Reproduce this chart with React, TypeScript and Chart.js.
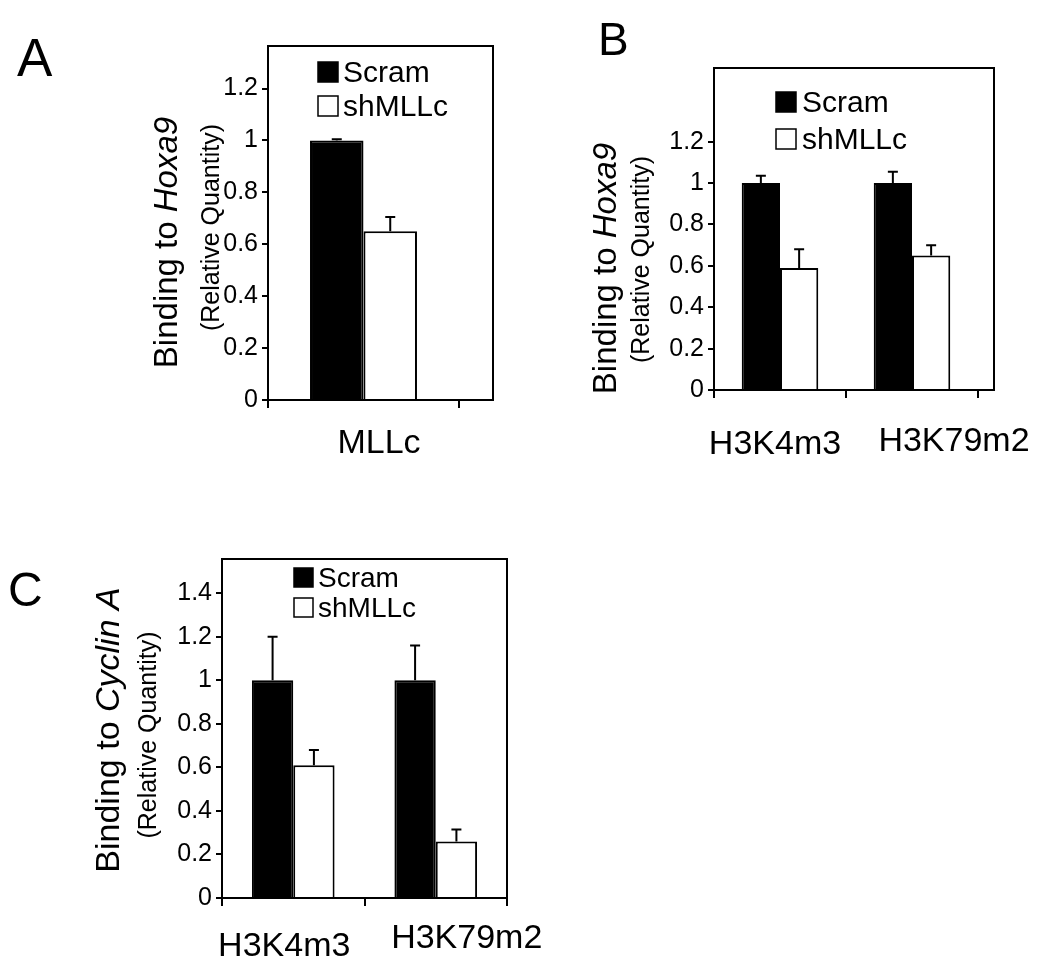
import React, { useEffect, useRef } from 'react';
import { Chart, registerables } from 'chart.js';

Chart.register(...registerables);

const FONT = '"Liberation Sans", Arial, Helvetica, sans-serif';

// ---------- Data ----------
const seriesNames = ['Scram', 'shMLLc'];

// Panel A – binding to Hoxa9
const panelACategories = ['MLLc'];
const panelAScram = [1.0];
const panelAScramErr = [0.005];
const panelAShMLLc = [0.65];
const panelAShMLLcErr = [0.055];
const panelAYTicks = [0, 0.2, 0.4, 0.6, 0.8, 1, 1.2];
const panelAYTickLabels = ['0', '0.2', '0.4', '0.6', '0.8', '1', '1.2'];

// Panel B – binding to Hoxa9 (histone marks)
const panelBCategories = ['H3K4m3', 'H3K79m2'];
const panelBScram = [1.0, 1.0];
const panelBScramErr = [0.035, 0.055];
const panelBShMLLc = [0.59, 0.65];
const panelBShMLLcErr = [0.09, 0.05];
const panelBYTicks = [0, 0.2, 0.4, 0.6, 0.8, 1, 1.2];
const panelBYTickLabels = ['0', '0.2', '0.4', '0.6', '0.8', '1', '1.2'];

// Panel C – binding to Cyclin A
const panelCCategories = ['H3K4m3', 'H3K79m2'];
const panelCScram = [1.0, 1.0];
const panelCScramErr = [0.2, 0.16];
const panelCShMLLc = [0.61, 0.26];
const panelCShMLLcErr = [0.07, 0.055];
const panelCYTicks = [0, 0.2, 0.4, 0.6, 0.8, 1, 1.2, 1.4];
const panelCYTickLabels = ['0', '0.2', '0.4', '0.6', '0.8', '1', '1.2', '1.4'];

// ---------- Drawing helpers ----------
function drawRotated(ctx: CanvasRenderingContext2D, parts: { text: string; italic?: boolean }[], x: number, cy: number, size: number) {
  ctx.save();
  ctx.translate(x, cy);
  ctx.rotate(-Math.PI / 2);
  let total = 0;
  const widths = parts.map((p) => {
    ctx.font = `${p.italic ? 'italic ' : ''}${size}px ${FONT}`;
    const w = ctx.measureText(p.text).width;
    total += w;
    return w;
  });
  let cx = -total / 2;
  ctx.textAlign = 'left';
  ctx.textBaseline = 'alphabetic';
  ctx.fillStyle = '#000';
  parts.forEach((p, i) => {
    ctx.font = `${p.italic ? 'italic ' : ''}${size}px ${FONT}`;
    ctx.fillText(p.text, cx, 0);
    cx += widths[i];
  });
  ctx.restore();
}

const decorPlugin = {
  id: 'panelDecor',
  afterDraw(chart: any, _args: any, opts: any) {
    const ctx: CanvasRenderingContext2D = chart.ctx;
    const { left, right, top, bottom } = chart.chartArea;
    const yScale = chart.scales.y;
    const xScale = chart.scales.x;
    ctx.save();

    // frame
    ctx.strokeStyle = '#000';
    ctx.lineWidth = 2;
    ctx.strokeRect(left, top, right + opts.frameExtra - left, bottom - top);

    // error bars (upper only)
    ctx.lineWidth = 2;
    chart.data.datasets.forEach((ds: any, di: number) => {
      const meta = chart.getDatasetMeta(di);
      meta.data.forEach((bar: any, i: number) => {
        const v = ds.data[i];
        const e = ds.errors[i];
        const y0 = yScale.getPixelForValue(v);
        const y1 = yScale.getPixelForValue(v + e);
        ctx.beginPath();
        ctx.moveTo(bar.x, y0);
        ctx.lineTo(bar.x, y1);
        ctx.moveTo(bar.x - opts.cap, y1);
        ctx.lineTo(bar.x + opts.cap, y1);
        ctx.stroke();
      });
    });

    // legend
    const lg = opts.legend;
    chart.data.datasets.forEach((ds: any, di: number) => {
      const sy = lg.y + di * lg.lineH;
      ctx.fillStyle = ds.backgroundColor;
      ctx.fillRect(lg.x, sy, lg.size, lg.size);
      ctx.strokeStyle = '#000';
      ctx.lineWidth = 1.5;
      ctx.strokeRect(lg.x, sy, lg.size, lg.size);
      ctx.fillStyle = '#000';
      ctx.font = `${lg.font}px ${FONT}`;
      ctx.textAlign = 'left';
      ctx.textBaseline = 'alphabetic';
      ctx.fillText(ds.label, lg.x + lg.size + lg.gap, sy + lg.size);
    });

    // category labels
    const cl = opts.catLabels;
    ctx.font = `${cl.size}px ${FONT}`;
    ctx.textAlign = 'center';
    ctx.textBaseline = 'alphabetic';
    ctx.fillStyle = '#000';
    chart.data.labels.forEach((lab: string, i: number) => {
      ctx.fillText(lab, xScale.getPixelForValue(i) + cl.dx[i], cl.baseline[i]);
    });

    // y titles
    const yt = opts.yTitle;
    drawRotated(ctx, yt.parts, yt.x, yt.y, yt.size);
    const ys = opts.ySub;
    drawRotated(ctx, [{ text: ys.text }], ys.x, ys.y, ys.size);

    // panel letter
    const lt = opts.letter;
    ctx.font = `${lt.size}px ${FONT}`;
    ctx.textAlign = 'left';
    ctx.fillStyle = '#000';
    ctx.fillText(lt.text, lt.x, lt.y);

    ctx.restore();
  },
};

function makeConfig(p: any) {
  return {
    type: 'bar',
    data: {
      labels: p.categories,
      datasets: [
        {
          label: seriesNames[0],
          data: p.scram,
          errors: p.scramErr,
          backgroundColor: '#000000',
          borderColor: '#000000',
          borderWidth: 2,
          categoryPercentage: p.catPct,
          barPercentage: 1,
        },
        {
          label: seriesNames[1],
          data: p.sh,
          errors: p.shErr,
          backgroundColor: '#ffffff',
          borderColor: '#000000',
          borderWidth: 2,
          categoryPercentage: p.catPct,
          barPercentage: 1,
        },
      ],
    },
    options: {
      responsive: false,
      animation: false,
      devicePixelRatio: 1,
      locale: 'en-US',
      layout: { padding: p.padding },
      events: [],
      plugins: {
        legend: { display: false },
        tooltip: { enabled: false },
        panelDecor: p.decor,
      },
      scales: {
        x: {
          grid: {
            display: true,
            offset: true,
            drawOnChartArea: false,
            drawTicks: true,
            tickLength: 8,
            color: '#000',
            lineWidth: 2,
          },
          border: { display: true, color: '#000', width: 2 },
          ticks: { display: false },
          afterFit: (s: any) => {
            s.height = 10;
          },
        },
        y: {
          min: 0,
          max: p.yMax,
          bounds: 'data',
          ticks: {
            includeBounds: false,
            font: { family: FONT, size: p.tickSize },
            color: '#000',
            padding: 4,
            callback: (_v: any, i: number) => p.yTickLabels[i],
          },
          afterBuildTicks: (s: any) => {
            s.ticks = p.yTicks.map((v: number) => ({ value: v }));
          },
          grid: {
            drawOnChartArea: false,
            drawTicks: true,
            tickLength: 6,
            color: '#000',
            lineWidth: 2,
          },
          border: { display: true, color: '#000', width: 2 },
          afterFit: (s: any) => {
            s.width = p.yWidth;
          },
        },
      },
    },
    plugins: [decorPlugin],
  };
}

const paramsA = {
  categories: panelACategories,
  scram: panelAScram,
  scramErr: panelAScramErr,
  sh: panelAShMLLc,
  shErr: panelAShMLLcErr,
  yTicks: panelAYTicks,
  yTickLabels: panelAYTickLabels,
  yMax: 1.364,
  catPct: 0.56,
  tickSize: 25,
  yWidth: 268,
  padding: { left: 0, top: 46, right: 61, bottom: 90 },
  decor: {
    frameExtra: 34,
    cap: 5,
    letter: { text: 'A', x: 17, y: 76, size: 53 },
    legend: { x: 318, y: 62, size: 20, lineH: 34, font: 30, gap: 5 },
    yTitle: { parts: [{ text: 'Binding to ' }, { text: 'Hoxa9', italic: true }], x: 177, y: 242.5, size: 33 },
    ySub: { text: '(Relative Quantity)', x: 219, y: 227.5, size: 25 },
    catLabels: { dx: [15.5], baseline: [453], size: 34 },
  },
};

const paramsB = {
  categories: panelBCategories,
  scram: panelBScram,
  scramErr: panelBScramErr,
  sh: panelBShMLLc,
  shErr: panelBShMLLcErr,
  yTicks: panelBYTicks,
  yTickLabels: panelBYTickLabels,
  yMax: 1.556,
  catPct: 0.58,
  tickSize: 25,
  yWidth: 194,
  padding: { left: 0, top: 68, right: 72, bottom: 100 },
  decor: {
    frameExtra: 16,
    cap: 5,
    letter: { text: 'B', x: 78, y: 55, size: 46 },
    legend: { x: 256, y: 92, size: 20, lineH: 37, font: 30, gap: 6 },
    yTitle: { parts: [{ text: 'Binding to ' }, { text: 'Hoxa9', italic: true }], x: 96, y: 268.5, size: 33 },
    ySub: { text: '(Relative Quantity)', x: 129, y: 259.5, size: 25 },
    catLabels: { dx: [-5, 42], baseline: [454, 451], size: 34 },
  },
};

const paramsC = {
  categories: panelCCategories,
  scram: panelCScram,
  scramErr: panelCScramErr,
  sh: panelCShMLLc,
  shErr: panelCShMLLcErr,
  yTicks: panelCYTicks,
  yTickLabels: panelCYTickLabels,
  yMax: 1.557,
  catPct: 0.58,
  tickSize: 25,
  yWidth: 222,
  padding: { left: 0, top: 19, right: 93, bottom: 68 },
  decor: {
    frameExtra: 0,
    cap: 5,
    letter: { text: 'C', x: 8, y: 66, size: 48 },
    legend: { x: 294, y: 28, size: 19, lineH: 30, font: 28, gap: 5 },
    yTitle: { parts: [{ text: 'Binding to ' }, { text: 'Cyclin A', italic: true }], x: 119, y: 190, size: 34 },
    ySub: { text: '(Relative Quantity)', x: 156, y: 195, size: 25 },
    catLabels: { dx: [-9, 31], baseline: [416, 408], size: 34 },
  },
};

function Panel({ params, left, top, width, height }: any) {
  const ref = useRef<HTMLCanvasElement | null>(null);
  useEffect(() => {
    if (!ref.current) return;
    const chart = new Chart(ref.current, makeConfig(params) as any);
    return () => chart.destroy();
  }, [params]);
  return (
    <canvas
      ref={ref}
      width={width}
      height={height}
      style={{ position: 'absolute', left, top, width, height }}
    />
  );
}

export default function App() {
  return (
    <div style={{ position: 'absolute', left: 0, top: 0, width: 1050, height: 976, background: '#fff', overflow: 'hidden' }}>
      <Panel params={paramsA} left={0} top={0} width={520} height={500} />
      <Panel params={paramsB} left={520} top={0} width={530} height={500} />
      <Panel params={paramsC} left={0} top={540} width={600} height={436} />
    </div>
  );
}
